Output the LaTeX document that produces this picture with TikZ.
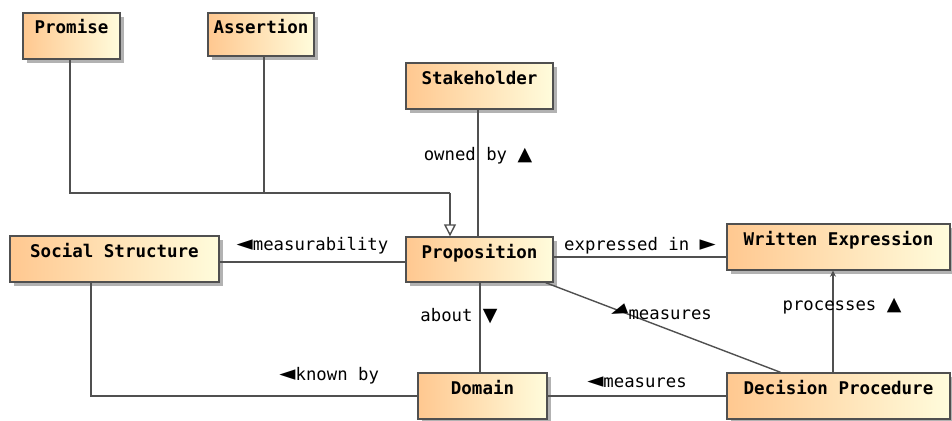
\documentclass[tikz,border=0pt]{standalone}
\usepackage{fontspec}
\setmonofont{DejaVu Sans Mono}
\newfontfamily\symfont{DejaVu Sans}
\usetikzlibrary{arrows.meta, shadows}
\definecolor{clsleft}{HTML}{FFC890}
\definecolor{clsright}{HTML}{FFFCDC}
\definecolor{edgec}{HTML}{505050}
\newcommand{\tril}{{\symfont\fontsize{21}{17}\selectfont ◄}}
\newcommand{\trir}{{\symfont\fontsize{21}{17}\selectfont ►}}
\newcommand{\triu}{{\symfont\fontsize{19}{15}\selectfont ▲}}
\newcommand{\trid}{{\symfont\fontsize{19}{15}\selectfont ▼}}
\newcommand{\trild}{\rotatebox{21}{\tril}}

\begin{document}
\begin{tikzpicture}[x=1pt, y=-1pt,
      conn/.style={draw=edgec, line width=1.4pt},
      lbl/.style={font=\ttfamily\fontsize{17.3}{20}\selectfont, inner sep=1pt},
      cls/.style={draw=edgec, line width=1.4pt, left color=clsleft,
                  right color=clsright, inner xsep=4pt, inner ysep=3pt,
                  font=\ttfamily\bfseries\fontsize{17.5}{20}\selectfont,
                  text height=18pt, text depth=22pt,
                  drop shadow={shadow xshift=4pt, shadow yshift=-4pt,
                               fill=black!30, opacity=1}}]
    \useasboundingbox (0,0) rectangle (952,420);
    \node[cls, minimum width=97pt] (prom) at (71.5,36) {Promise};
    \node[cls, minimum width=106pt, text depth=19pt] (asrt) at (261,34.5) {Assertion};
    \node[cls, minimum width=147pt] (stk) at (479.5,86) {Stakeholder};
    \node[cls, minimum width=147pt, text depth=21pt] (prop) at (479.5,259.5) {Proposition};
    \node[cls, minimum width=209pt] (soc) at (114.5,259) {Social Structure};
    \node[cls, minimum width=129pt] (dom) at (482.5,396) {Domain};
    \node[cls, minimum width=223pt] (wexp) at (838.5,247) {Written Expression};
    \node[cls, minimum width=223pt] (dproc) at (838.5,396) {Decision Procedure};

    % generalisation
    \coordinate (gen) at (450,193);
    \draw[conn] ([xshift=-1.5pt]prom.south) |- (gen);
    \draw[conn] ([xshift=3pt]asrt.south) |- (gen);
    \draw[conn, -{Triangle[open, fill=white, length=12pt, width=12pt]}]
      (gen) -- (gen |- prop.north);

    % associations
    \draw[conn] ([xshift=-1.5pt]stk.south) -- node[lbl, pos=0.36] {owned by \triu}
      ([xshift=-1.5pt]prop.north);
    \draw[conn] ([yshift=-3pt]soc.east) -- node[lbl, midway, yshift=16pt]
      {\tril measurability} ([yshift=-3pt]soc.east -| prop.west);
    \draw[conn] ([yshift=2.5pt]prop.east) -- node[lbl, midway, yshift=11pt]
      {expressed in \trir} ([yshift=2.5pt]prop.east -| wexp.west);
    \draw[conn] ([xshift=-8pt]prop.south east) -- node[lbl, pos=0.49, yshift=15pt]
      {\trild measures} ([xshift=-58pt]dproc.north);
    \draw[conn] ([xshift=0.5pt]prop.south) -- node[lbl, pos=0.37, xshift=-21pt]
      {about \trid} ([xshift=0.5pt]prop.south |- dom.north);
    \draw[conn] ([xshift=-23.5pt]soc.south) |- node[lbl, pos=0.865, yshift=20pt]
      {\tril known by} (dom.west);
    \draw[conn] (dom) -- node[lbl, midway, yshift=14pt] {\tril measures} (dproc);
    \draw[conn, -{Stealth[length=6pt, width=6pt]}] ([xshift=-5.5pt]dproc.north)
      -- node[lbl, pos=0.65, xshift=9pt] {processes \triu}
      ([xshift=-5.5pt]dproc.north |- wexp.south);
  \end{tikzpicture}
\end{document}
